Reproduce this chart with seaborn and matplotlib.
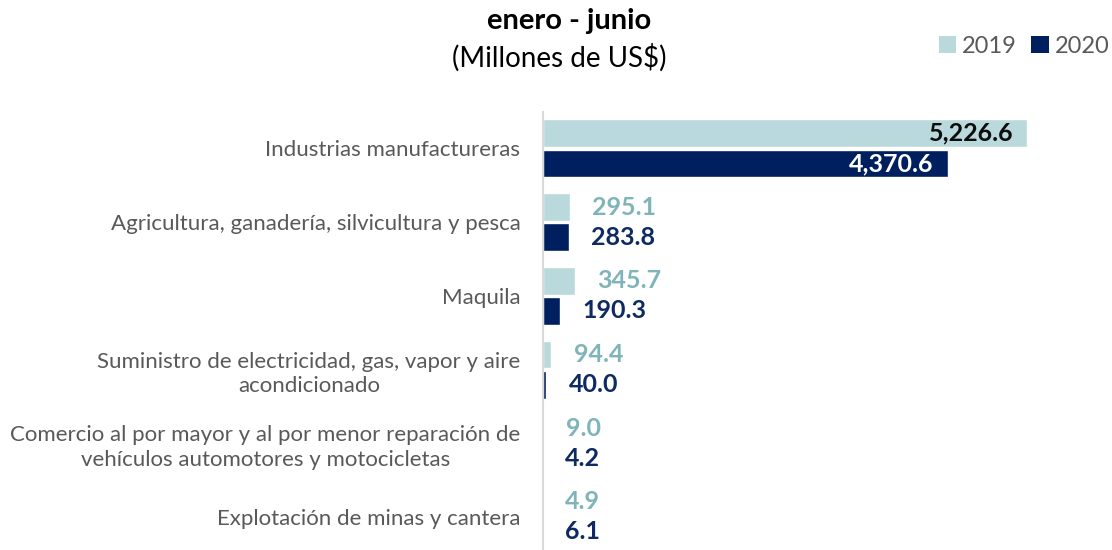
import matplotlib
matplotlib.use("Agg")
import matplotlib.pyplot as plt
import seaborn as sns
import pandas as pd
from matplotlib.patches import Patch

categories = [
    "Industrias manufactureras",
    "Agricultura, ganadería, silvicultura y pesca",
    "Maquila",
    "Suministro de electricidad, gas, vapor y aire\nacondicionado",
    "Comercio al por mayor y al por menor reparación de\nvehículos automotores y motocicletas",
    "Explotación de minas y cantera",
]
values_2019 = [5226.6, 295.1, 345.7, 94.4, 9.0, 4.9]
values_2020 = [4370.6, 283.8, 190.3, 40.0, 4.2, 6.1]
years = ["2019", "2020"]

title = "enero - junio"
subtitle = "(Millones de US$)"

light = "#BAD9DC"
dark = "#001F5F"
light_txt = "#7FB4B9"
dark_txt = "#0E2A62"
gray = "#595959"

sns.set_theme(style="white")
plt.rcParams["font.family"] = ["Lato", "DejaVu Sans"]

df = pd.DataFrame({
    "cat": categories * 2,
    "val": values_2019 + values_2020,
    "year": [years[0]] * len(categories) + [years[1]] * len(categories),
})

fig = plt.figure(figsize=(11.12, 5.5), dpi=100)
ax = fig.add_axes([0.488, 0.0, 0.5, 0.797])

sns.barplot(data=df, y="cat", x="val", hue="year", orient="h",
            palette=[light, dark], width=0.82, gap=0.08, ax=ax,
            legend=False, saturation=1)

ax.set_xlim(0, 6000)
ax.set_ylim(5.45, -0.5)
ax.set_xlabel("")
ax.set_ylabel("")
ax.set_xticks([])
for s in ["top", "right", "bottom"]:
    ax.spines[s].set_visible(False)
ax.spines["left"].set_color("#D9D9D9")
ax.spines["left"].set_linewidth(1.5)
ax.tick_params(axis="y", length=0, pad=16)
for lbl in ax.get_yticklabels():
    lbl.set_fontsize(16)
    lbl.set_color(gray)
    lbl.set_multialignment("center")
    lbl.set_linespacing(1.3)

big_colors = ["#0D0D0D", "white"]
small_colors = [light_txt, dark_txt]
for ci, cont in enumerate(ax.containers):
    for bar in cont:
        w = bar.get_width()
        yc = bar.get_y() + bar.get_height() / 2
        txt = f"{w:,.1f}"
        if w > 1000:
            ax.annotate(txt, (w, yc), xytext=(-10, 0), textcoords="offset points",
                        ha="right", va="center", fontsize=18, fontweight="bold",
                        color=big_colors[ci])
        else:
            ax.annotate(txt, (w, yc), xytext=(16, 0), textcoords="offset points",
                        ha="left", va="center", fontsize=18, fontweight="bold",
                        color=small_colors[ci])

fig.text(0.512, 0.962, title, ha="center", va="center", fontsize=21,
         fontweight="bold", color="black")
fig.text(0.503, 0.895, subtitle, ha="center", va="center", fontsize=20,
         color="black")

handles = [Patch(facecolor=light, edgecolor="none"), Patch(facecolor=dark, edgecolor="none")]
fig.legend(handles, years, loc="center right", bbox_to_anchor=(1.017, 0.916), ncol=2,
           frameon=False, fontsize=17, labelcolor=gray, handlelength=0.75,
           handleheight=0.75, handletextpad=0.25, columnspacing=0.6)

fig.savefig("out.png", dpi=100)
